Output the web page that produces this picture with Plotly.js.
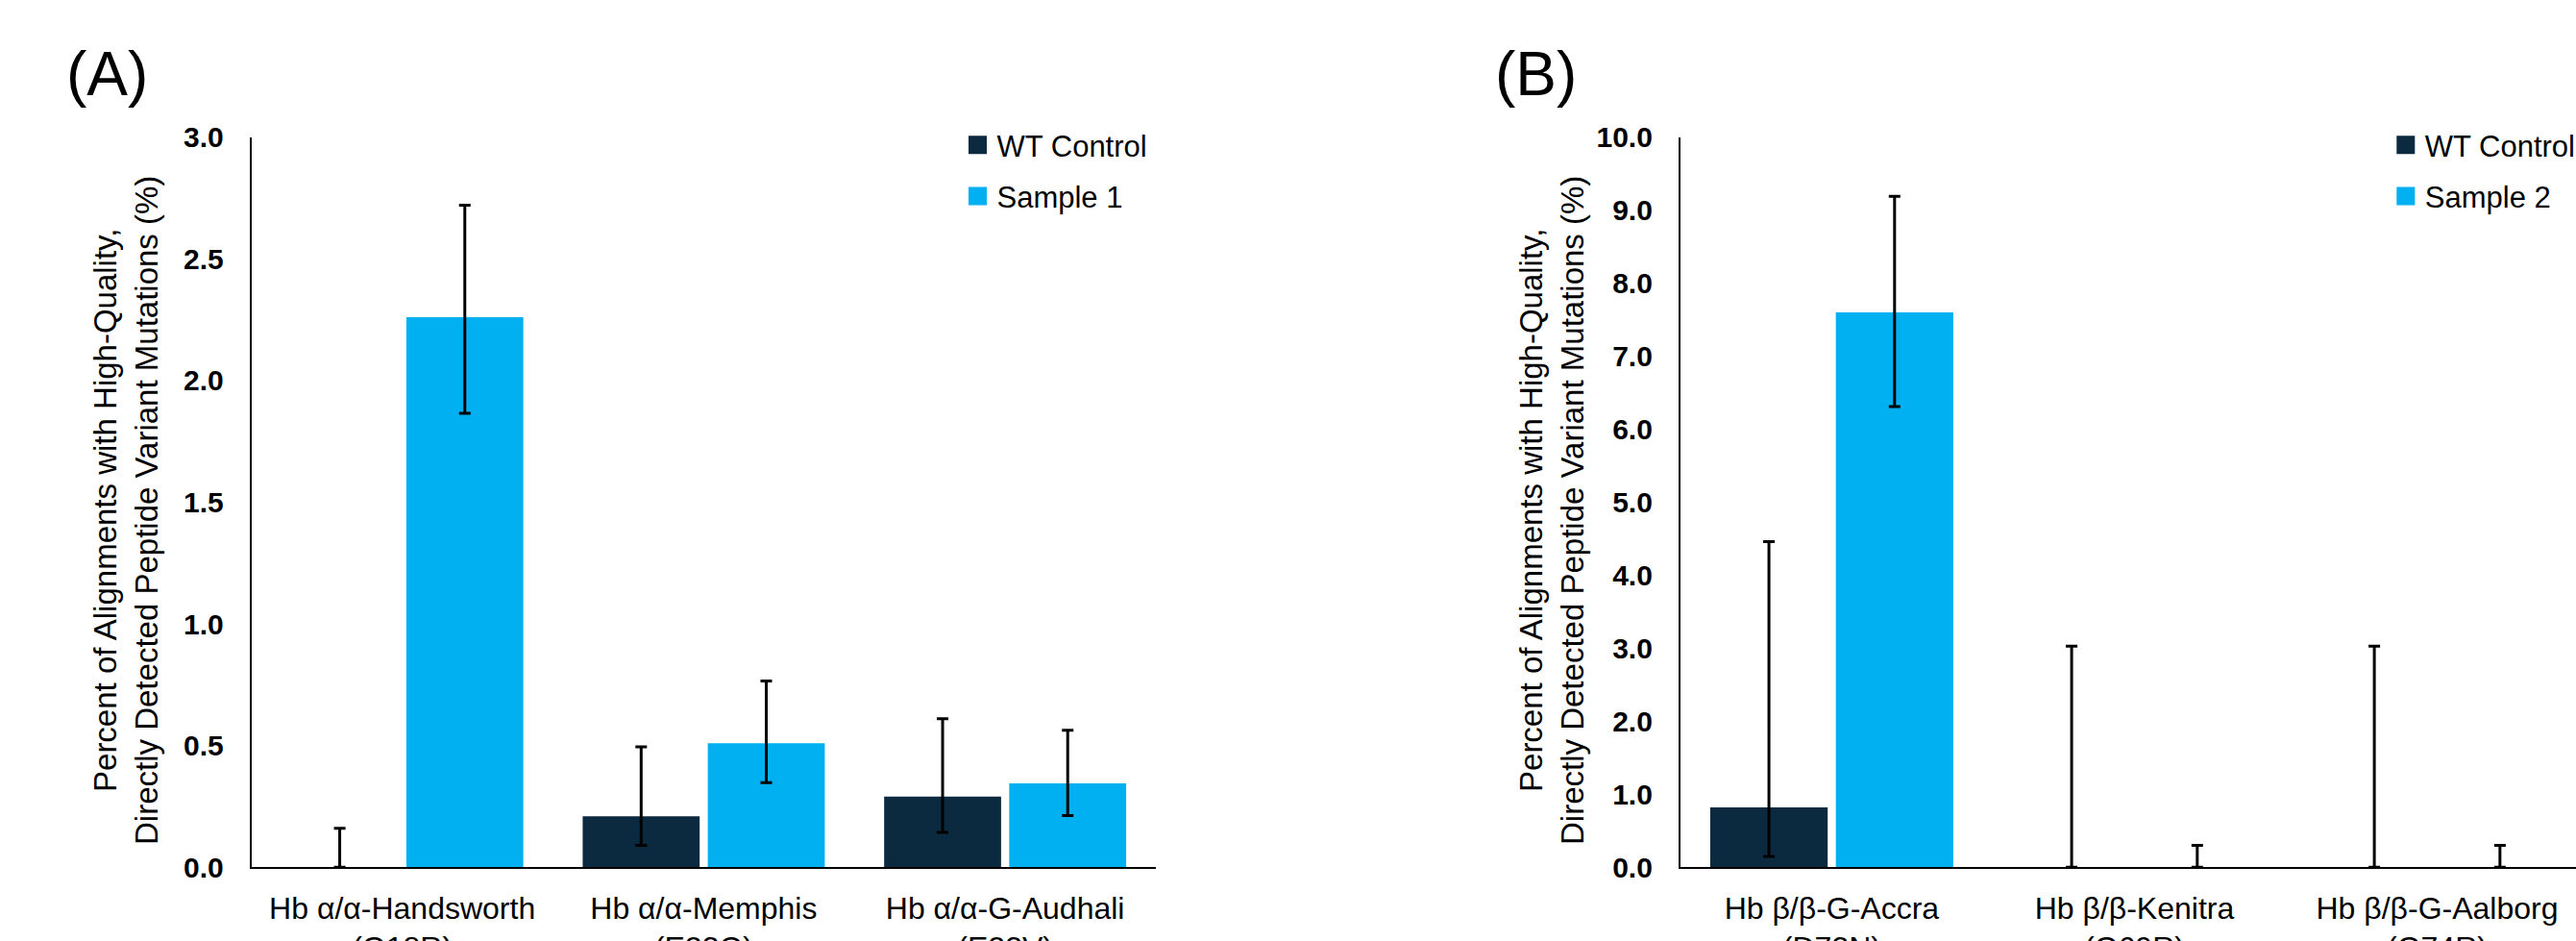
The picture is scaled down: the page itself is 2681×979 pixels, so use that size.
<!DOCTYPE html>
<html>
<head>
<meta charset="utf-8">
<script src="https://cdn.plot.ly/plotly-3.0.1.min.js"></script>
<style>
  html, body { margin: 0; padding: 0; background: #ffffff; overflow: hidden; }
  #wrap { width: 2681px; height: 979px; overflow: hidden; position: relative; }
  #chart { width: 2720px; height: 979px; }
</style>
</head>
<body>
<div id="wrap"><div id="chart"></div></div>
<script>
// ---- Panel A data ----
const catsA = ["Hb α/α-Handsworth", "Hb α/α-Memphis", "Hb α/α-G-Audhali"];
const mutA = ["(G18R)", "(E23Q)", "(E23V)"];
const wtA = [0, 0.21, 0.29];
const wtAPlus = [0.16, 0.285, 0.32];
const wtAMinus = [0, 0.12, 0.147];
const s1 = [2.26, 0.51, 0.345];
const s1Plus = [0.46, 0.255, 0.218];
const s1Minus = [0.395, 0.162, 0.133];

// ---- Panel B data ----
const catsB = ["Hb β/β-G-Accra", "Hb β/β-Kenitra", "Hb β/β-G-Aalborg"];
const mutB = ["(D73N)", "(G69R)", "(G74R)"];
const wtB = [0.82, 0, 0];
const wtBPlus = [3.64, 3.03, 3.03];
const wtBMinus = [0.67, 0, 0];
const s2 = [7.60, 0, 0];
const s2Plus = [1.59, 0.30, 0.30];
const s2Minus = [1.29, 0, 0];

const yTicksA = [0, 0.5, 1.0, 1.5, 2.0, 2.5, 3.0];
const yTicksB = [0, 1, 2, 3, 4, 5, 6, 7, 8, 9, 10];

const C_WT = "#0C2A3F";
const C_S = "#00B0F0";
const FONT = "Liberation Sans, Arial, Helvetica, sans-serif";

const labA = catsA.map((c, i) => c + "<br>" + mutA[i]);
const labB = catsB.map((c, i) => c + "<br>" + mutB[i]);

function err(plus, minus) {
  return { type: "data", symmetric: false, array: plus, arrayminus: minus,
           color: "#000000", thickness: 3, width: 6 };
}

function legendDummy(name, color, legend, grp) {
  const a = legend === "legend";
  return { type: "scatter", mode: "markers", x: [null], y: [null], name: name,
           legend: legend, legendgroup: grp, xaxis: a ? "x" : "x2", yaxis: a ? "y" : "y2",
           marker: { symbol: "square", size: 16, color: color, line: { width: 3, color: color } },
           hoverinfo: "skip" };
}

const traces = [
  { type: "bar", x: labA, y: wtA, name: "WT Control", marker: { color: C_WT },
    error_y: err(wtAPlus, wtAMinus), xaxis: "x", yaxis: "y", showlegend: false },
  { type: "bar", x: labA, y: s1, name: "Sample 1", marker: { color: C_S },
    error_y: err(s1Plus, s1Minus), xaxis: "x", yaxis: "y", showlegend: false },
  { type: "bar", x: labB, y: wtB, name: "WT Control", marker: { color: C_WT },
    error_y: err(wtBPlus, wtBMinus), xaxis: "x2", yaxis: "y2", showlegend: false },
  { type: "bar", x: labB, y: s2, name: "Sample 2", marker: { color: C_S },
    error_y: err(s2Plus, s2Minus), xaxis: "x2", yaxis: "y2", showlegend: false },
  legendDummy("WT Control", C_WT, "legend", "a1"),
  legendDummy("Sample 1", C_S, "legend", "a2"),
  legendDummy("WT Control", C_WT, "legend2", "b1"),
  legendDummy("Sample 2", C_S, "legend2", "b2")
];

const W = 2720, H = 979;
const yDom = [1 - 902.3 / H, 1 - 142.7 / H];

function xax(dom, cats) {
  return { domain: dom, type: "category", categoryarray: cats, range: [-0.5, 2.5],
           showline: true, linecolor: "#000000", linewidth: 2, ticks: "",
           showgrid: false, zeroline: false, fixedrange: true,
           tickfont: { family: FONT, size: 32, color: "#000000" }, ticklabelstandoff: 13 };
}
function yax(dom, anchor, range, ticks) {
  return { domain: dom, anchor: anchor, range: range, tickvals: ticks, tickformat: ".1f",
           showline: true, linecolor: "#000000", linewidth: 2, ticks: "",
           showgrid: false, zeroline: false, fixedrange: true,
           tickfont: { family: FONT, size: 30, color: "#000000", weight: "bold" },
           ticklabelstandoff: 21 };
}

const legendBase = { xanchor: "left", y: 1 - 124 / H, yanchor: "top",
                     font: { family: FONT, size: 31, color: "#000000" }, bgcolor: "rgba(0,0,0,0)",
                     borderwidth: 0, tracegroupgap: 10 };

const layout = {
  width: W, height: H,
  margin: { l: 0, r: 0, t: 0, b: 0, pad: 0 },
  paper_bgcolor: "#ffffff", plot_bgcolor: "#ffffff",
  barmode: "group", bargap: 0.17, bargroupgap: 0.065,
  font: { family: FONT, color: "#000000" },
  xaxis: xax([261.8 / W, 1203 / W], labA),
  yaxis: yax(yDom, "x", [0, 3], yTicksA),
  xaxis2: xax([1748.9 / W, 2694 / W], labB),
  yaxis2: yax(yDom, "x2", [0, 10], yTicksB),
  legend: Object.assign({}, legendBase, { x: (1017.5 - 20) / W }),
  legend2: Object.assign({}, legendBase, { x: (2503.8 - 20) / W }),
  annotations: [
    { text: "(A)", xref: "paper", yref: "paper", x: 111.7 / W, y: 1 - 77 / H,
      xanchor: "center", yanchor: "middle", showarrow: false,
      font: { family: FONT, size: 64, color: "#000000" } },
    { text: "(B)", xref: "paper", yref: "paper", x: 1598.7 / W, y: 1 - 77 / H,
      xanchor: "center", yanchor: "middle", showarrow: false,
      font: { family: FONT, size: 64, color: "#000000" } },
    { text: "Percent of Alignments with High-Quality,<br>Directly Detected Peptide Variant Mutations (%)",
      xref: "paper", yref: "paper", x: 131 / W, y: 1 - 531 / H, textangle: -90,
      xanchor: "center", yanchor: "middle", showarrow: false,
      font: { family: FONT, size: 33, color: "#000000" } },
    { text: "Percent of Alignments with High-Quality,<br>Directly Detected Peptide Variant Mutations (%)",
      xref: "paper", yref: "paper", x: 1615 / W, y: 1 - 531 / H, textangle: -90,
      xanchor: "center", yanchor: "middle", showarrow: false,
      font: { family: FONT, size: 33, color: "#000000" } }
  ]
};

Plotly.newPlot("chart", traces, layout, { staticPlot: true, displayModeBar: false });
</script>
</body>
</html>
